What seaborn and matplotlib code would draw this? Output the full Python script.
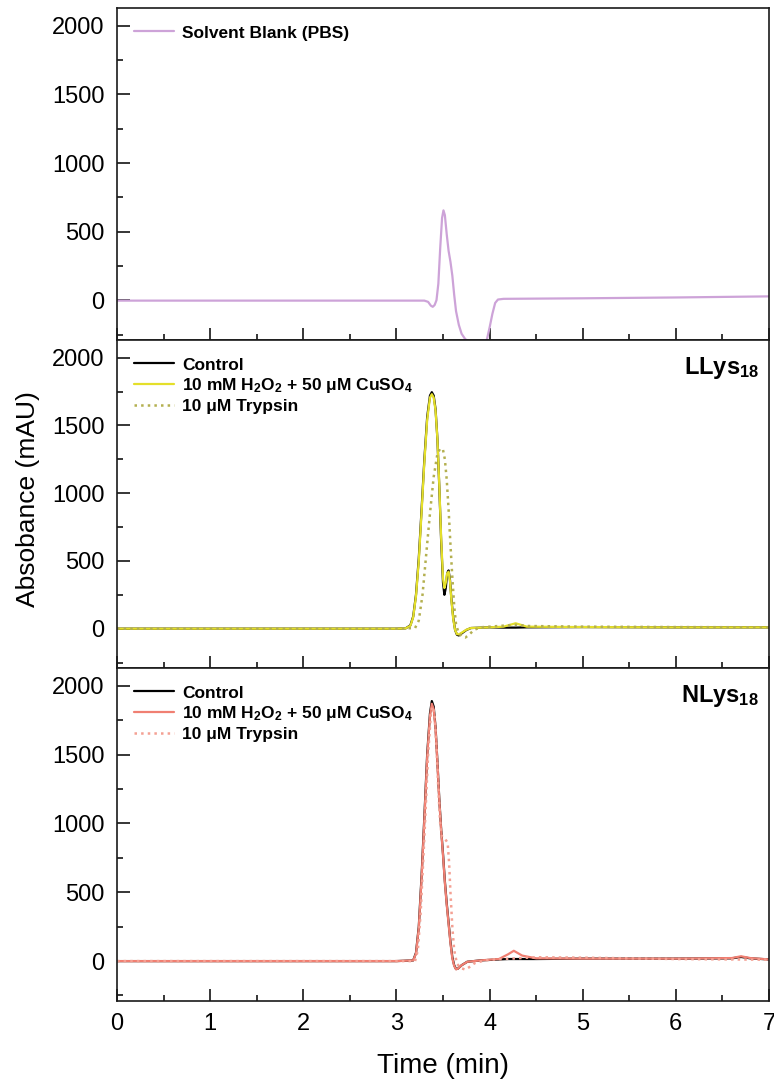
import numpy as np
import pandas as pd
import matplotlib
matplotlib.use("Agg")
import matplotlib.pyplot as plt
from matplotlib.ticker import MultipleLocator
import seaborn as sns

# ---------------- data ----------------
pbs_t = [0, 1, 2, 3, 3.30, 3.34, 3.37, 3.39, 3.41, 3.43, 3.45, 3.47, 3.49, 3.505, 3.52,
         3.54, 3.56, 3.58, 3.60, 3.62, 3.64, 3.67, 3.70, 3.74, 3.80, 3.88, 3.94, 3.97,
         4.00, 4.03, 4.06, 4.09, 4.15, 5, 6, 7]
pbs_y = [-3, -3, -3, -3, -3, -12, -40, -48, -35, 0, 120, 380, 600, 655, 620,
         480, 360, 280, 180, 40, -80, -180, -245, -285, -305, -320, -320, -290,
         -200, -100, -20, 5, 10, 14, 20, 28]

ll_t = [0, 1, 2, 3.0, 3.10, 3.15, 3.18, 3.21, 3.24, 3.27, 3.30, 3.33, 3.36, 3.38, 3.40,
        3.42, 3.44, 3.46, 3.48, 3.50, 3.515, 3.53, 3.545, 3.56, 3.575, 3.59, 3.61, 3.63,
        3.65, 3.67, 3.70, 3.75, 3.80, 4.0, 4.15, 4.28, 4.40, 5, 6, 7]
ll_ctrl = [0, 0, 0, 0, 3, 25, 90, 250, 520, 880, 1250, 1560, 1720, 1745, 1720,
           1620, 1400, 1050, 650, 340, 250, 300, 410, 430, 360, 220, 80, -10,
           -45, -50, -35, -10, 5, 10, 8, 8, 10, 12, 10, 10]
ll_ox = [0, 0, 0, 0, 3, 22, 85, 240, 500, 860, 1230, 1540, 1705, 1730, 1705,
         1610, 1400, 1060, 670, 370, 300, 340, 410, 420, 350, 210, 70, -10,
         -40, -42, -30, -8, 5, 10, 15, 40, 15, 12, 10, 10]
ll_tryp_t = [0, 1, 2, 3.0, 3.20, 3.24, 3.28, 3.32, 3.36, 3.40, 3.44, 3.47, 3.50, 3.52,
             3.54, 3.56, 3.58, 3.60, 3.62, 3.64, 3.67, 3.71, 3.74, 3.78, 3.83, 3.90,
             4.2, 4.3, 4.4, 5, 6, 7]
ll_tryp = [0, 0, 0, 0, 5, 60, 250, 550, 850, 1120, 1290, 1330, 1320, 1250,
           1100, 880, 620, 380, 170, 30, -35, -60, -65, -45, -10, 10,
           25, 30, 20, 15, 12, 10]

nl_t = [0, 1, 2, 3.0, 3.18, 3.21, 3.24, 3.27, 3.30, 3.33, 3.36, 3.38, 3.40, 3.42,
        3.44, 3.46, 3.48, 3.50, 3.52, 3.54, 3.56, 3.58, 3.60, 3.62, 3.64, 3.66,
        3.70, 3.76, 3.90, 4.10, 4.20, 4.26, 4.35, 4.50, 5, 6, 6.6, 6.7, 6.8, 7]
nl_ctrl = [0, 0, 0, 0, 5, 60, 250, 620, 1050, 1500, 1800, 1890, 1850, 1700,
           1450, 1180, 960, 780, 580, 420, 280, 140, 30, -30, -58, -55,
           -30, -5, 5, 12, 15, 15, 15, 15, 18, 18, 20, 30, 20, 12]
nl_ox = [0, 0, 0, 0, 5, 55, 240, 600, 1030, 1480, 1780, 1870, 1830, 1690,
         1440, 1170, 950, 770, 570, 410, 270, 130, 20, -35, -60, -55,
         -30, -5, 5, 15, 50, 75, 40, 20, 18, 18, 22, 35, 22, 12]
nl_tryp_t = [0, 1, 2, 3.0, 3.20, 3.23, 3.26, 3.30, 3.34, 3.37, 3.39, 3.41, 3.43, 3.45,
             3.47, 3.49, 3.52, 3.55, 3.565, 3.58, 3.60, 3.62, 3.65, 3.69, 3.74, 3.78,
             3.84, 3.92, 4.0, 4.5, 5, 6, 7]
nl_tryp = [0, 0, 0, 0, 0, 80, 350, 900, 1500, 1800, 1850, 1780, 1550, 1250,
           1000, 900, 890, 860, 720, 500, 250, 80, -20, -50, -62, -45,
           -15, 0, 10, 28, 25, 15, 10]

ll_labels = ["Control", "10 mM H$_2$O$_2$ + 50 μM CuSO$_4$", "10 μM Trypsin"]
pbs_label = "Solvent Blank (PBS)"
x_ticks = [0, 1, 2, 3, 4, 5, 6, 7]
y_ticks = [0, 500, 1000, 1500, 2000]

# ---------------- style ----------------
sns.set_style("ticks")
plt.rcParams["font.family"] = ["Liberation Sans", "DejaVu Sans"]
plt.rcParams["text.color"] = "black"
plt.rcParams["xtick.color"] = "black"
plt.rcParams["ytick.color"] = "black"
plt.rcParams["axes.edgecolor"] = "black"
plt.rcParams["mathtext.fontset"] = "custom"
plt.rcParams["mathtext.rm"] = "Liberation Sans:bold"
plt.rcParams["mathtext.it"] = "Liberation Sans:bold"
plt.rcParams["mathtext.bf"] = "Liberation Sans:bold"

fig = plt.figure(figsize=(7.74, 10.87), dpi=100)
L, W = 117 / 774, (769 - 117) / 774
def box(top, bot):
    return [L, 1 - bot / 1087, W, (bot - top) / 1087]
ax1 = fig.add_axes(box(8, 340))
ax2 = fig.add_axes(box(340, 668))
ax3 = fig.add_axes(box(668, 1001))

purple = "#cda3d8"
yellow = "#e4df2a"
olive = "#b4b050"
salmon = "#f07f72"
salmon_dot = "#f4a093"

def draw(ax, x, y, color, ls, label, lw=1.6):
    sns.lineplot(x=x, y=y, ax=ax, color=color, linestyle=ls, linewidth=lw,
                 label=label, sort=False, estimator=None)

draw(ax1, pbs_t, pbs_y, purple, "-", pbs_label)

draw(ax2, ll_t, ll_ctrl, "black", "-", ll_labels[0])
draw(ax2, ll_t, ll_ox, yellow, "-", ll_labels[1])
draw(ax2, ll_tryp_t, ll_tryp, olive, ":", ll_labels[2], lw=1.8)

draw(ax3, nl_t, nl_ctrl, "black", "-", ll_labels[0])
draw(ax3, nl_t, nl_ox, salmon, "-", ll_labels[1])
draw(ax3, nl_tryp_t, nl_tryp, salmon_dot, ":", ll_labels[2], lw=1.8)

for ax in (ax1, ax2, ax3):
    ax.set_xlim(0, 7)
    ax.set_ylim(-290, 2130)
    ax.set_xticks(x_ticks)
    ax.set_yticks(y_ticks)
    ax.xaxis.set_minor_locator(MultipleLocator(0.5))
    ax.yaxis.set_minor_locator(MultipleLocator(250))
    ax.tick_params(which="major", direction="in", length=9, width=1.1,
                   labelsize=17, top=False, right=False, pad=9)
    ax.tick_params(which="minor", direction="in", length=4.5, width=1.1,
                   top=False, right=False)
    for s in ax.spines.values():
        s.set_linewidth(1.2)
        s.set_color("#1a1a1a")
    ax.set_xlabel("")
    ax.set_ylabel("")
    ax.legend(loc="upper left", frameon=False, prop={"weight": "bold", "size": 12.5},
              handlelength=2.3, handletextpad=0.45, labelspacing=0.22,
              borderaxespad=0.5, borderpad=0.5)
for ax in (ax1, ax2):
    ax.tick_params(labelbottom=False)

ax2.text(0.985, 0.955, "LLys$_{18}$", transform=ax2.transAxes, ha="right", va="top",
         fontsize=17, fontweight="bold")
ax3.text(0.985, 0.955, "NLys$_{18}$", transform=ax3.transAxes, ha="right", va="top",
         fontsize=17, fontweight="bold")

fig.text(0.036, 1 - 499 / 1087, "Absobance (mAU)", rotation=90, ha="center", va="center",
         fontsize=19)
fig.text(443 / 774, 1 - 1066 / 1087, "Time (min)", ha="center", va="center", fontsize=20)

fig.savefig("out.png", dpi=100)
